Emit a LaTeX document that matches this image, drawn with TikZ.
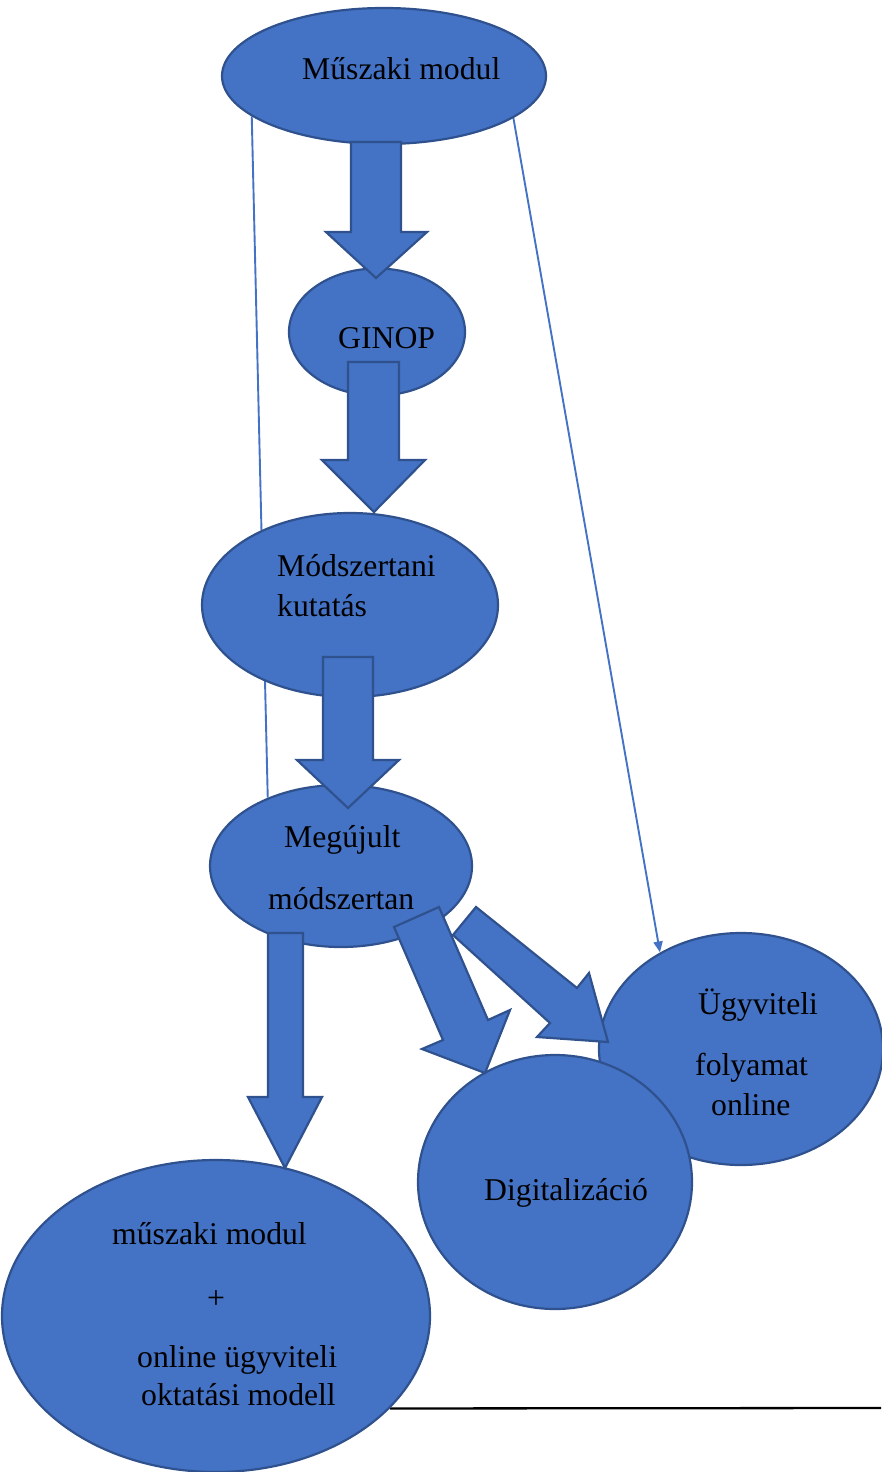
\documentclass[tikz,border=0pt]{standalone}
\usepackage{fontspec}
\setmainfont{Liberation Serif}
\usetikzlibrary{shapes.geometric,arrows.meta,backgrounds}
\definecolor{fillblue}{HTML}{4472C4}
\definecolor{edgeblue}{HTML}{2F528F}
\begin{document}
\begin{tikzpicture}[x=1pt,y=-1pt,
  bubble/.style={ellipse,draw=edgeblue,fill=fillblue,line width=2.2pt,inner sep=0pt},
  blockarrow/.style={draw=edgeblue,fill=fillblue,line width=2.2pt,line join=miter},
  thinlink/.style={draw=fillblue,line width=1.9pt},
  txt/.style={inner sep=0pt,anchor=base west,font=\fontsize{31.7}{38}\selectfont}]
\useasboundingbox (0,0) rectangle (881,1472);

% ellipses
\node[bubble,minimum width=324pt,minimum height=136pt] (muszaki) at (384,76) {};
\node[bubble,minimum width=176pt,minimum height=127pt] (ginop) at (377,332) {};
\node[bubble,minimum width=296pt,minimum height=184pt] (modszer) at (350,605) {};
\node[bubble,minimum width=262pt,minimum height=162pt] (megujult) at (341,866) {};
\node[bubble,minimum width=428pt,minimum height=312pt] (osszeg) at (216,1316) {};
\node[bubble,minimum width=284pt,minimum height=232pt] (ugyv) at (741,1049) {};
\node[bubble,minimum width=274pt,minimum height=254pt] (digit) at (555,1182) {};

\coordinate (linend) at (881,1408);

% thin connectors and base line behind the ellipses
\begin{scope}[on background layer]
\draw[thinlink] (muszaki.197.6) -- (megujult.137.5);
\draw[thinlink,-{Triangle[length=11pt,width=9pt]}] (muszaki.342.35) -- (ugyv.130.75);
\draw[black,line width=2.3pt] (osszeg.332.1) -- (linend);
\end{scope}

% block arrows
\draw[blockarrow] (351,142) -- (401,142) -- (401,232) -- (427,232) -- (376,278) -- (326,232) -- (351,232) -- cycle;
\draw[blockarrow] (348,362) -- (399,362) -- (399,460) -- (425,460) -- (374,512) -- (322,460) -- (348,460) -- cycle;
\draw[blockarrow] (323,657) -- (373,657) -- (373,760) -- (399,760) -- (348,808) -- (297,760) -- (323,760) -- cycle;
\draw[blockarrow] (268,933) -- (303,933) -- (303,1097) -- (322,1097) -- (285,1168) -- (248,1097) -- (268,1097) -- cycle;
\draw[blockarrow] (394,927) -- (439,907) -- (488,1020) -- (510,1010) -- (485,1073) -- (422,1049) -- (443,1040) -- cycle;
\draw[blockarrow] (453,935) -- (476,907) -- (577,988) -- (589,973) -- (608,1042) -- (537,1037) -- (550,1023) -- cycle;

% texts
\node[txt] (t1) at (302,79) {Műszaki modul};
\node[txt] (t2) at (338,348) {GINOP};
\node[txt] (t3) at (277,576) {Módszertani};
\node[txt] (t4) at (277,616) {kutatás};
\node[txt] (t5) at (284,847) {Megújult};
\node[txt] (t6) at (268,909) {módszertan};
\node[txt] (t7) at (698,1014) {Ügyviteli};
\node[txt] (t8) at (695,1075) {folyamat};
\node[txt] (t9) at (711,1115) {online};
\node[txt] (t10) at (484,1200) {Digitalizáció};
\node[txt] (t11) at (112,1244) {műszaki modul};
\node[txt,anchor=center] (t12) at (216,1300) {+};
\node[txt] (t13) at (137,1367) {online ügyviteli};
\node[txt] (t14) at (141,1405) {oktatási modell};
\end{tikzpicture}
\end{document}
